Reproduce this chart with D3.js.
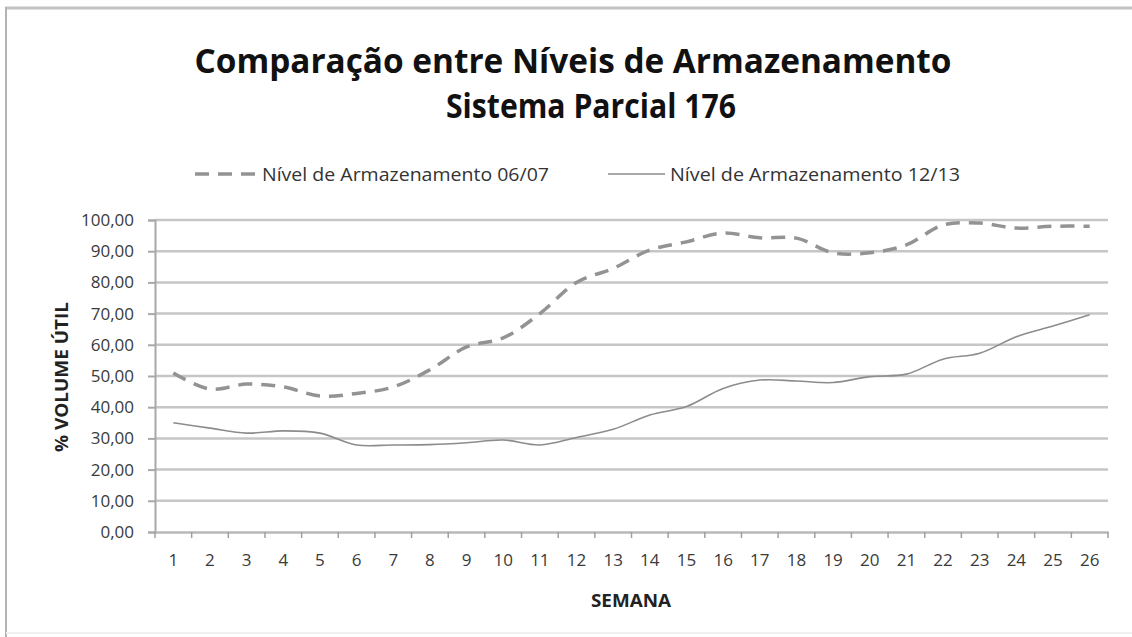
<!DOCTYPE html>
<html lang="pt">
<head>
    <meta charset="UTF-8">
    <title>Comparação entre Níveis de Armazenamento</title>
    <script src="https://d3js.org/d3.v7.min.js"></script>
    <style>
        body { margin: 0; background: #fff; }
        svg { display: block; font-family: "Open Sans", sans-serif; }
        .tick-label { fill: #3a3a3a; }
    </style>
</head>
<body>
    <svg id="chart"></svg>
    <script>
        // Chart data
        const weeks = d3.range(1, 27);
        const serie0607 = [51.0, 45.8, 47.4, 46.5, 43.6, 44.4, 46.5, 52.0, 59.3, 62.2, 70.0, 80.0, 84.5,
                           90.4, 93.0, 95.8, 94.3, 94.2, 89.5, 89.5, 92.0, 98.4, 99.0, 97.4, 98.0, 98.0];
        const serie1213 = [35.0, 33.3, 31.7, 32.4, 31.7, 27.9, 27.9, 28.0, 28.6, 29.5, 27.9, 30.3, 32.9,
                           37.5, 40.2, 46.0, 48.7, 48.4, 47.9, 49.8, 50.6, 55.4, 57.3, 62.6, 66.0, 69.6];
        const yTicks = d3.range(0, 101, 10);
        const seriesNames = ["Nível de Armazenamento 06/07", "Nível de Armazenamento 12/13"];
        const titleLines = ["Comparação entre Níveis de Armazenamento", "Sistema Parcial 176"];

        const width = 1132, height = 637;
        const plot = { left: 155, right: 1108, top: 220, bottom: 532 };

        const svg = d3.select("#chart").attr("width", width).attr("height", height);

        // frame around the chart area
        svg.append("line").attr("x1", 5).attr("x2", width).attr("y1", 8).attr("y2", 8)
            .attr("stroke", "#c4c4c4").attr("stroke-width", 3);
        svg.append("line").attr("x1", 6).attr("x2", 6).attr("y1", 7).attr("y2", height)
            .attr("stroke", "#b4b4b4").attr("stroke-width", 2);
        svg.append("line").attr("x1", 6).attr("x2", width).attr("y1", 633).attr("y2", 633)
            .attr("stroke", "#f0f0f0").attr("stroke-width", 2);

        // squeeze a text to a given width (the original font is narrow)
        function squeeze(sel, w) {
            sel.attr("textLength", w).attr("lengthAdjust", "spacingAndGlyphs");
        }

        // Title
        const t1 = svg.append("text").attr("x", 573).attr("y", 73).attr("text-anchor", "middle")
            .attr("font-size", 34).attr("font-weight", "bold").attr("fill", "#111")
            .text(titleLines[0]);
        squeeze(t1, 757);
        const t2 = svg.append("text").attr("x", 591).attr("y", 118).attr("text-anchor", "middle")
            .attr("font-size", 34).attr("font-weight", "bold").attr("fill", "#111")
            .text(titleLines[1]);
        squeeze(t2, 290);

        // Scales
        const x = d3.scaleBand().domain(weeks).range([plot.left, plot.right]).paddingInner(0);
        const y = d3.scaleLinear().domain([0, 100]).range([plot.bottom, plot.top]);
        const cx = d => x(d) + x.bandwidth() / 2;

        // Gridlines
        svg.append("g").selectAll("line").data(yTicks.filter(d => d > 0)).join("line")
            .attr("x1", plot.left).attr("x2", plot.right)
            .attr("y1", d => y(d)).attr("y2", d => y(d))
            .attr("stroke", "#c6c6c6").attr("stroke-width", 2.5);

        // Y axis
        const yAxis = svg.append("g").attr("transform", `translate(${plot.left},0)`)
            .call(d3.axisLeft(y).tickValues(yTicks).tickSize(7).tickPadding(14)
                .tickFormat(d => d.toFixed(2).replace(".", ",")));
        yAxis.select(".domain").attr("stroke", "#a8a8a8").attr("stroke-width", 2);
        yAxis.selectAll(".tick line").attr("stroke", "#a8a8a8").attr("stroke-width", 2);
        yAxis.selectAll(".tick text").attr("class", "tick-label")
            .attr("font-size", 17).attr("font-family", "Open Sans, sans-serif");

        // X axis
        const xAxis = svg.append("g").attr("transform", `translate(0,${plot.bottom})`)
            .call(d3.axisBottom(x).tickSize(0).tickPadding(22));
        xAxis.select(".domain").attr("stroke", "#b8b8b8").attr("stroke-width", 2.5);
        xAxis.selectAll(".tick text").attr("class", "tick-label")
            .attr("font-size", 17).attr("font-family", "Open Sans, sans-serif");
        // boundary tick marks
        xAxis.append("g").selectAll("line").data(d3.range(weeks.length + 1)).join("line")
            .attr("x1", i => plot.left + i * x.step()).attr("x2", i => plot.left + i * x.step())
            .attr("y1", 0).attr("y2", 6)
            .attr("stroke", "#a0a0a0").attr("stroke-width", 1.5);

        // Axis titles
        const yt = svg.append("text").attr("transform", "translate(68,377) rotate(-90)")
            .attr("text-anchor", "middle").attr("font-size", 18).attr("font-weight", "bold")
            .attr("fill", "#222").text("% VOLUME ÚTIL");
        squeeze(yt, 150);
        const xt = svg.append("text").attr("x", 631).attr("y", 607).attr("text-anchor", "middle")
            .attr("font-size", 18).attr("font-weight", "bold").attr("fill", "#222").text("SEMANA");
        squeeze(xt, 80);

        // Lines
        const line = d3.line().x((d, i) => cx(weeks[i])).y(d => y(d)).curve(d3.curveCatmullRom.alpha(0.5));
        svg.append("path").datum(serie0607).attr("d", line)
            .attr("fill", "none").attr("stroke", "#939393").attr("stroke-width", 3.5)
            .attr("stroke-dasharray", "14 9");
        svg.append("path").datum(serie1213).attr("d", line)
            .attr("fill", "none").attr("stroke", "#8c8c8c").attr("stroke-width", 1.6);

        // Legend
        const legY = 174;
        svg.append("line").attr("x1", 195).attr("x2", 257).attr("y1", legY).attr("y2", legY)
            .attr("stroke", "#939393").attr("stroke-width", 3.5).attr("stroke-dasharray", "14 9");
        const l1 = svg.append("text").attr("x", 262).attr("y", legY + 7).attr("font-size", 18)
            .attr("fill", "#333").text(seriesNames[0]);
        squeeze(l1, 287);
        svg.append("line").attr("x1", 608).attr("x2", 665).attr("y1", legY).attr("y2", legY)
            .attr("stroke", "#8c8c8c").attr("stroke-width", 1.6);
        const l2 = svg.append("text").attr("x", 670).attr("y", legY + 7).attr("font-size", 18)
            .attr("fill", "#333").text(seriesNames[1]);
        squeeze(l2, 290);
    </script>
</body>
</html>
